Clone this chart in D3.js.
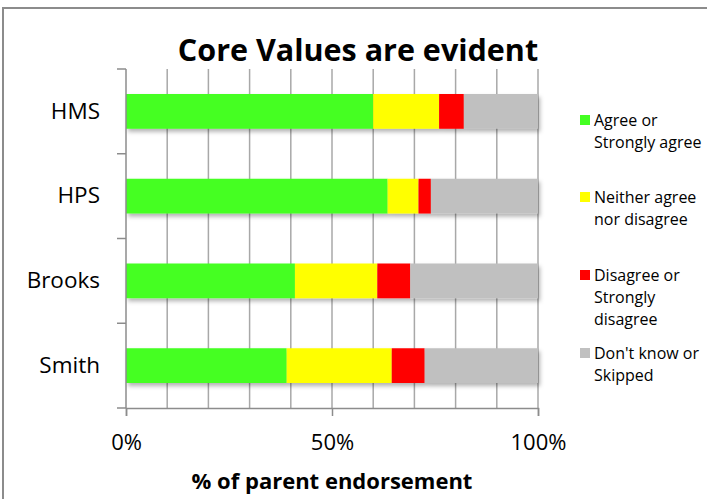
<!DOCTYPE html>
<html>
<head>
<meta charset="utf-8">
<script src="https://cdn.jsdelivr.net/npm/d3@7"></script>
<style>
  body { margin: 0; background: #fff; }
  text { font-family: "Open Sans", Lato, sans-serif; fill: #000; }
</style>
</head>
<body>
<script>
// chart values (percent of parents)
var schools = ["HMS", "HPS", "Brooks", "Smith"];
var agree = [60, 63.5, 41, 39];
var neither = [16, 7.5, 20, 25.5];
var disagree = [6, 3, 8, 8];
var dontKnow = [18, 26, 31, 27.5];
var seriesNames = ["Agree or|Strongly agree", "Neither agree|nor disagree", "Disagree or|Strongly|disagree", "Don't know or|Skipped"];
var colors = ["#44ff22", "#ffff00", "#ff0000", "#c0c0c0"];
var xTicks = [0, 50, 100];

var width = 707, height = 499;
var margin = { top: 69, left: 126, right: 169, bottom: 91 };
var plotW = width - margin.left - margin.right,
    plotH = height - margin.top - margin.bottom;

var svg = d3.select("body").append("svg")
    .attr("width", width)
    .attr("height", height);

// drop shadow for bars
var filt = svg.append("defs").append("filter")
    .attr("id", "shadow")
    .attr("x", "-5%").attr("y", "-20%")
    .attr("width", "115%").attr("height", "160%");
filt.append("feDropShadow")
    .attr("dx", 2).attr("dy", 3)
    .attr("stdDeviation", 2)
    .attr("flood-color", "#000")
    .attr("flood-opacity", 0.3);

// outer frame
svg.append("rect")
    .attr("x", 3).attr("y", 8)
    .attr("width", 720).attr("height", 520)
    .attr("fill", "none")
    .attr("stroke", "#8c8c8c")
    .attr("stroke-width", 2);

var g = svg.append("g")
    .attr("transform", "translate(" + margin.left + "," + margin.top + ")");

var x = d3.scaleLinear().domain([0, 100]).range([0, plotW]);
var y = d3.scaleBand().domain(schools).range([0, plotH]).paddingInner(0.59).paddingOuter(0.295);
var yBand = d3.scaleBand().domain(schools).range([0, plotH]);

// gridlines every 10%
g.append("g")
    .selectAll("line")
    .data(d3.range(10, 101, 10))
    .enter().append("line")
    .attr("x1", d => x(d)).attr("x2", d => x(d))
    .attr("y1", 0).attr("y2", plotH)
    .attr("stroke", "#a8a8a8")
    .attr("stroke-width", 1.5);

// stacked bars
var rows = schools.map(function (s, i) {
  return { school: s, a: agree[i], n: neither[i], d: disagree[i], k: dontKnow[i] };
});
var keys = ["a", "n", "d", "k"];
var stacked = d3.stack().keys(keys)(rows);

var bars = g.append("g").attr("filter", "url(#shadow)");
bars.selectAll("g")
    .data(stacked)
    .enter().append("g")
    .attr("fill", (d, i) => colors[i])
    .selectAll("rect")
    .data(d => d)
    .enter().append("rect")
    .attr("x", d => x(d[0]))
    .attr("width", d => x(d[1]) - x(d[0]))
    .attr("y", d => y(d.data.school))
    .attr("height", y.bandwidth());

// y axis
var yAxis = g.append("g")
    .call(d3.axisLeft(yBand).tickSize(0).tickPadding(26));
yAxis.select(".domain").remove();
yAxis.selectAll("text").style("font-size", "22.5px").attr("fill", "#000");

// y axis line + category separators
g.append("line")
    .attr("x1", 0).attr("x2", 0).attr("y1", 0).attr("y2", plotH)
    .attr("stroke", "#8c8c8c").attr("stroke-width", 1.5);
g.append("g")
    .selectAll("line")
    .data(d3.range(schools.length + 1))
    .enter().append("line")
    .attr("x1", -9).attr("x2", 0)
    .attr("y1", d => d * yBand.step()).attr("y2", d => d * yBand.step())
    .attr("stroke", "#8c8c8c").attr("stroke-width", 1.5);

// x axis
var xAxis = g.append("g")
    .attr("transform", "translate(0," + plotH + ")")
    .call(d3.axisBottom(x).tickValues(xTicks).tickFormat(d => d + "%").tickSize(8).tickPadding(18));
xAxis.select(".domain").attr("stroke", "#8c8c8c").attr("stroke-width", 1.5);
xAxis.selectAll(".tick line").attr("stroke", "#8c8c8c").attr("stroke-width", 1.5);
xAxis.selectAll("text").style("font-size", "22px").attr("fill", "#000");

// title
svg.append("text")
    .attr("x", 358).attr("y", 61)
    .attr("text-anchor", "middle")
    .style("font-size", "30.5px")
    .style("font-weight", "bold")
    .text("Core Values are evident");

// axis title
svg.append("text")
    .attr("x", 332).attr("y", 489)
    .attr("text-anchor", "middle")
    .style("font-size", "22px")
    .style("font-weight", "bold")
    .text("% of parent endorsement");

// legend
var legendY = [120, 197, 275, 353];
var legend = svg.append("g").attr("transform", "translate(580,0)");
seriesNames.forEach(function (name, i) {
  var item = legend.append("g").attr("transform", "translate(0," + legendY[i] + ")");
  item.append("rect")
    .attr("x", 0).attr("y", -5)
    .attr("width", 10).attr("height", 10)
    .attr("fill", colors[i]);
  item.append("text")
    .attr("x", 14).attr("y", 5.5)
    .style("font-size", "16px")
    .selectAll("tspan")
    .data(name.split("|"))
    .enter().append("tspan")
    .attr("x", 14)
    .attr("dy", (d, j) => j ? 22 : 0)
    .text(d => d);
});
</script>
</body>
</html>
